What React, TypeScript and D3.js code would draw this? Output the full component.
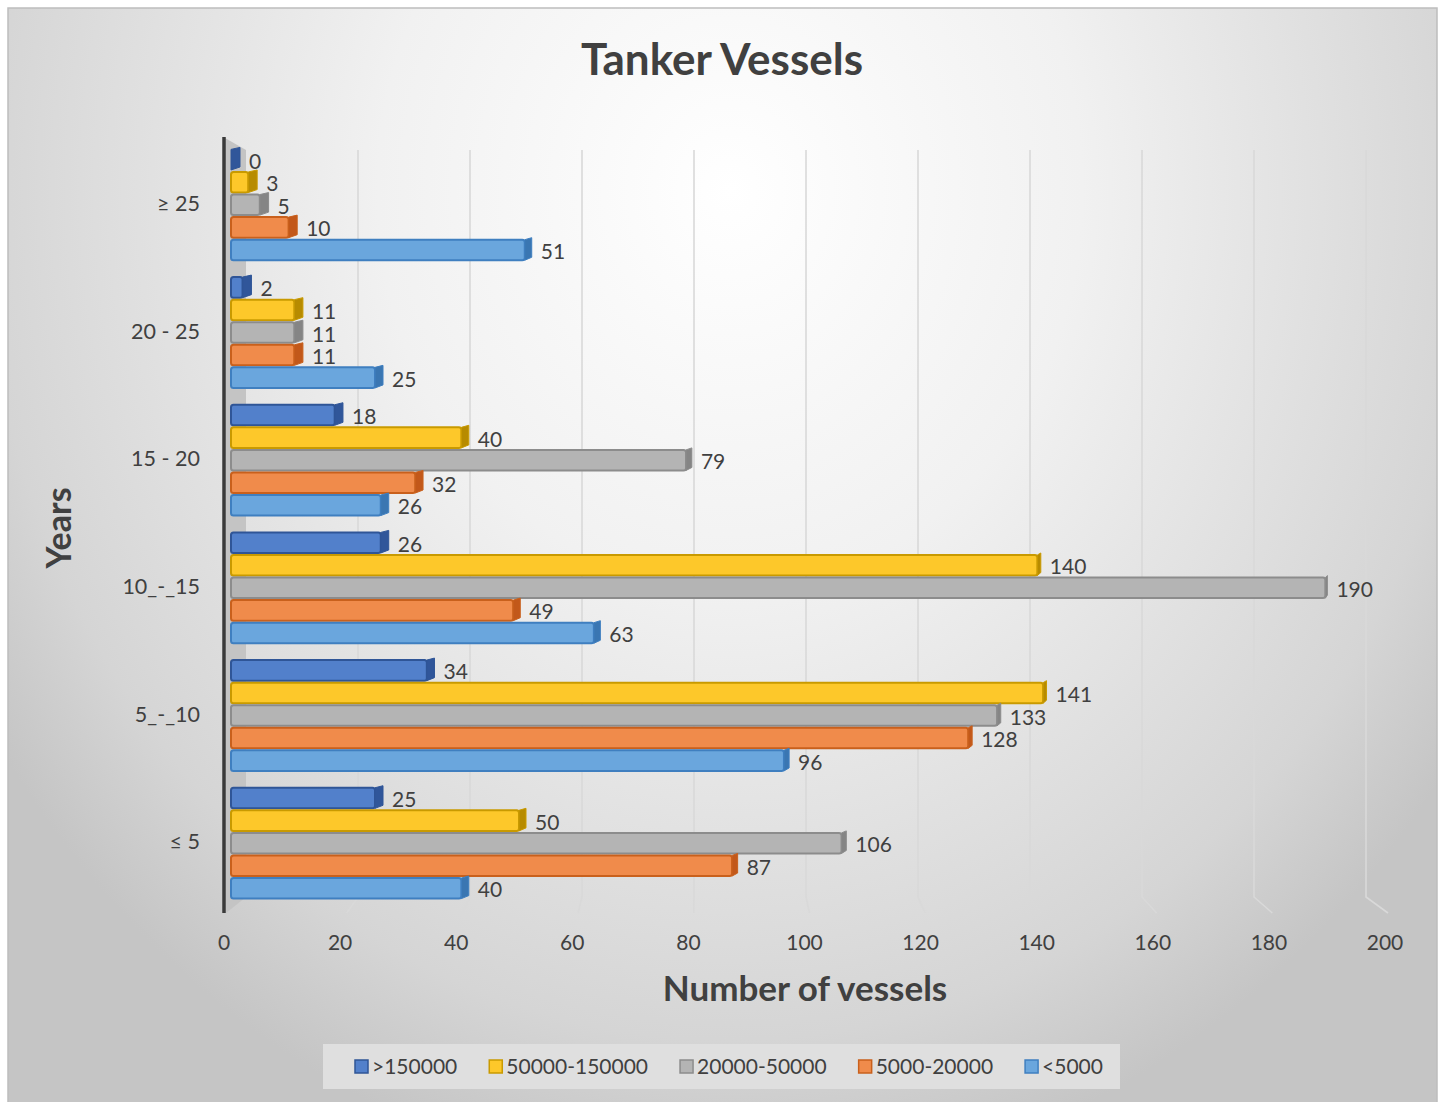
import { useEffect, useRef } from 'react';
import * as d3 from 'd3';

const categories = ['≥ 25', '20 - 25', '15 - 20', '10_-_15', '5_-_10', '≤ 5'];
const seriesNames = ['>150000', '50000-150000', '20000-50000', '5000-20000', '<5000'];
const over150000 = [0, 2, 18, 26, 34, 25];
const from50000 = [3, 11, 40, 140, 141, 50];
const from20000 = [5, 11, 79, 190, 133, 106];
const from5000 = [10, 11, 32, 49, 128, 87];
const under5000 = [51, 25, 26, 63, 96, 40];
const xTicks = [0, 20, 40, 60, 80, 100, 120, 140, 160, 180, 200];

const seriesValues = [over150000, from50000, from20000, from5000, under5000];

// face / edge / end-cap colours per series
const palette = [
  { face: '#5280cb', edge: '#2f5597', cap: '#30569a' },
  { face: '#fdc82a', edge: '#c99a00', cap: '#b78b00' },
  { face: '#b4b4b4', edge: '#8c8c8c', cap: '#858585' },
  { face: '#f08b4b', edge: '#c9601c', cap: '#c2581a' },
  { face: '#6aa6dd', edge: '#3f7fc0', cap: '#3a76b2' },
];

const FONT = 'Lato, "Open Sans", sans-serif';
const TEXT = '#404040';

export default function App() {
  const svgRef = useRef<SVGSVGElement>(null);

  useEffect(() => {
    document.body.style.margin = '0';
    const W = 1445;
    const H = 1102;
    const svg = d3.select(svgRef.current);
    svg.selectAll('*').remove();
    svg.attr('width', W).attr('height', H).attr('viewBox', `0 0 ${W} ${H}`);

    const defs = svg.append('defs');
    const bg = defs
      .append('radialGradient')
      .attr('id', 'bg')
      .attr('gradientUnits', 'userSpaceOnUse')
      .attr('cx', 0)
      .attr('cy', 0)
      .attr('r', 1)
      .attr('gradientTransform', 'translate(730,190) scale(880,1000)');
    [
      [0, '#ffffff'],
      [0.4, '#f1f1f1'],
      [0.85, '#d5d5d5'],
      [1, '#c5c5c5'],
    ].forEach(([o, c]) => bg.append('stop').attr('offset', o as number).attr('stop-color', c as string));

    // chart area
    svg.append('rect').attr('x', 0).attr('y', 0).attr('width', W).attr('height', H).attr('fill', '#ffffff');
    svg
      .append('rect')
      .attr('x', 8)
      .attr('y', 8)
      .attr('width', 1429)
      .attr('height', H + 10)
      .attr('fill', 'url(#bg)')
      .attr('stroke', '#bdbdbd')
      .attr('stroke-width', 1.5);

    // scales: front plane for bars, back plane for gridlines, labels for ticks
    const xBar = d3.scaleLinear().domain([0, 200]).range([231, 1383]);
    const xBack = d3.scaleLinear().domain([0, 200]).range([246, 1366]);
    const xFloor = d3.scaleLinear().domain([0, 200]).range([231, 1388]);
    const xLabel = d3.scaleLinear().domain([0, 200]).range([224, 1385]);

    const y = d3.scaleBand<string>().domain(categories).range([141, 907]).paddingInner(0.116).paddingOuter(0.058);
    const yInner = d3.scaleBand<string>().domain(seriesNames).range([0, y.bandwidth()]);

    const backTop = 150;
    const backBottom = 897;
    const floorFront = 913;

    // gridlines (back wall + floor bend)
    svg
      .append('g')
      .selectAll('path')
      .data(xTicks.filter(t => t > 0))
      .join('path')
      .attr('d', t => `M${xBack(t)},${backTop} L${xBack(t)},${backBottom} L${xFloor(t)},${floorFront}`)
      .attr('fill', 'none')
      .attr('stroke', '#d9d9d9')
      .attr('stroke-width', 1.6);

    // side wall
    svg
      .append('path')
      .attr('d', `M225,138 L${xBack(0)},${backTop} L${xBack(0)},${backBottom} L226,${floorFront} Z`)
      .attr('fill', '#c4c4c4');
    svg
      .append('line')
      .attr('x1', 224)
      .attr('x2', 224)
      .attr('y1', 137)
      .attr('y2', floorFront)
      .attr('stroke', '#3a3a3a')
      .attr('stroke-width', 3.5);

    // bars
    const barG = svg.append('g');
    const h = yInner.step() - 1;
    categories.forEach((cat, ci) => {
      seriesNames.forEach((s, si) => {
        const v = seriesValues[si][ci];
        const col = palette[si];
        const y0 = (y(cat) ?? 0) + (yInner(s) ?? 0);
        const x0 = xBar(0);
        const x1 = xBar(v);
        const dx = Math.max(2, 9 - v * 0.04);
        if (v > 0) {
          barG
            .append('rect')
            .attr('x', x0)
            .attr('y', y0 + 1)
            .attr('width', x1 - x0)
            .attr('height', h - 1)
            .attr('rx', 2.5)
            .attr('fill', col.face)
            .attr('stroke', col.edge)
            .attr('stroke-width', 2);
        }
        barG
          .append('path')
          .attr('d', `M${x1},${y0 + 1} L${x1 + dx},${y0 - 1} L${x1 + dx},${y0 + h - 3} L${x1},${y0 + h}Z`)
          .attr('fill', col.cap)
          .attr('stroke', col.edge)
          .attr('stroke-width', 1);
        barG
          .append('text')
          .attr('x', x1 + dx + 9)
          .attr('y', y0 + h / 2 + 1)
          .attr('dominant-baseline', 'central')
          .attr('font-family', FONT)
          .attr('font-size', 21)
          .attr('fill', TEXT)
          .text(v);
      });
    });

    // category labels
    svg
      .append('g')
      .selectAll('text')
      .data(categories)
      .join('text')
      .attr('x', 200)
      .attr('y', d => (y(d) ?? 0) + y.bandwidth() / 2 - 2)
      .attr('text-anchor', 'end')
      .attr('dominant-baseline', 'central')
      .attr('font-family', FONT)
      .attr('font-size', 21.5)
      .attr('fill', TEXT)
      .text(d => d);

    // x tick labels
    svg
      .append('g')
      .selectAll('text')
      .data(xTicks)
      .join('text')
      .attr('x', d => xLabel(d))
      .attr('y', 950)
      .attr('text-anchor', 'middle')
      .attr('font-family', FONT)
      .attr('font-size', 21)
      .attr('fill', TEXT)
      .text(d => d);

    // titles
    svg
      .append('text')
      .attr('x', 722)
      .attr('y', 75)
      .attr('text-anchor', 'middle')
      .attr('font-family', FONT)
      .attr('font-weight', 'bold')
      .attr('font-size', 44)
      .attr('fill', TEXT)
      .text('Tanker Vessels');
    svg
      .append('text')
      .attr('x', 805)
      .attr('y', 1001)
      .attr('text-anchor', 'middle')
      .attr('font-family', FONT)
      .attr('font-weight', 'bold')
      .attr('font-size', 35)
      .attr('fill', TEXT)
      .text('Number of vessels');
    svg
      .append('text')
      .attr('transform', 'translate(71,528) rotate(-90)')
      .attr('text-anchor', 'middle')
      .attr('font-family', FONT)
      .attr('font-weight', 'bold')
      .attr('font-size', 34)
      .attr('fill', TEXT)
      .text('Years');

    // legend
    const legend = svg.append('g');
    legend
      .append('rect')
      .attr('x', 323)
      .attr('y', 1044)
      .attr('width', 797)
      .attr('height', 45)
      .attr('fill', '#dfdfdf');
    let lx = 355;
    seriesNames.forEach((s, si) => {
      const col = palette[si];
      legend
        .append('rect')
        .attr('x', lx)
        .attr('y', 1060)
        .attr('width', 13)
        .attr('height', 13)
        .attr('fill', col.face)
        .attr('stroke', col.edge)
        .attr('stroke-width', 1.5);
      const t = legend
        .append('text')
        .attr('x', lx + 17)
        .attr('y', 1074)
        .attr('font-family', FONT)
        .attr('font-size', 21)
        .attr('fill', TEXT)
        .text(s);
      const tw = (t.node() as SVGTextElement).getComputedTextLength();
      lx += 17 + tw + 32;
    });
  }, []);

  return <svg ref={svgRef} style={{ display: 'block' }} />;
}
